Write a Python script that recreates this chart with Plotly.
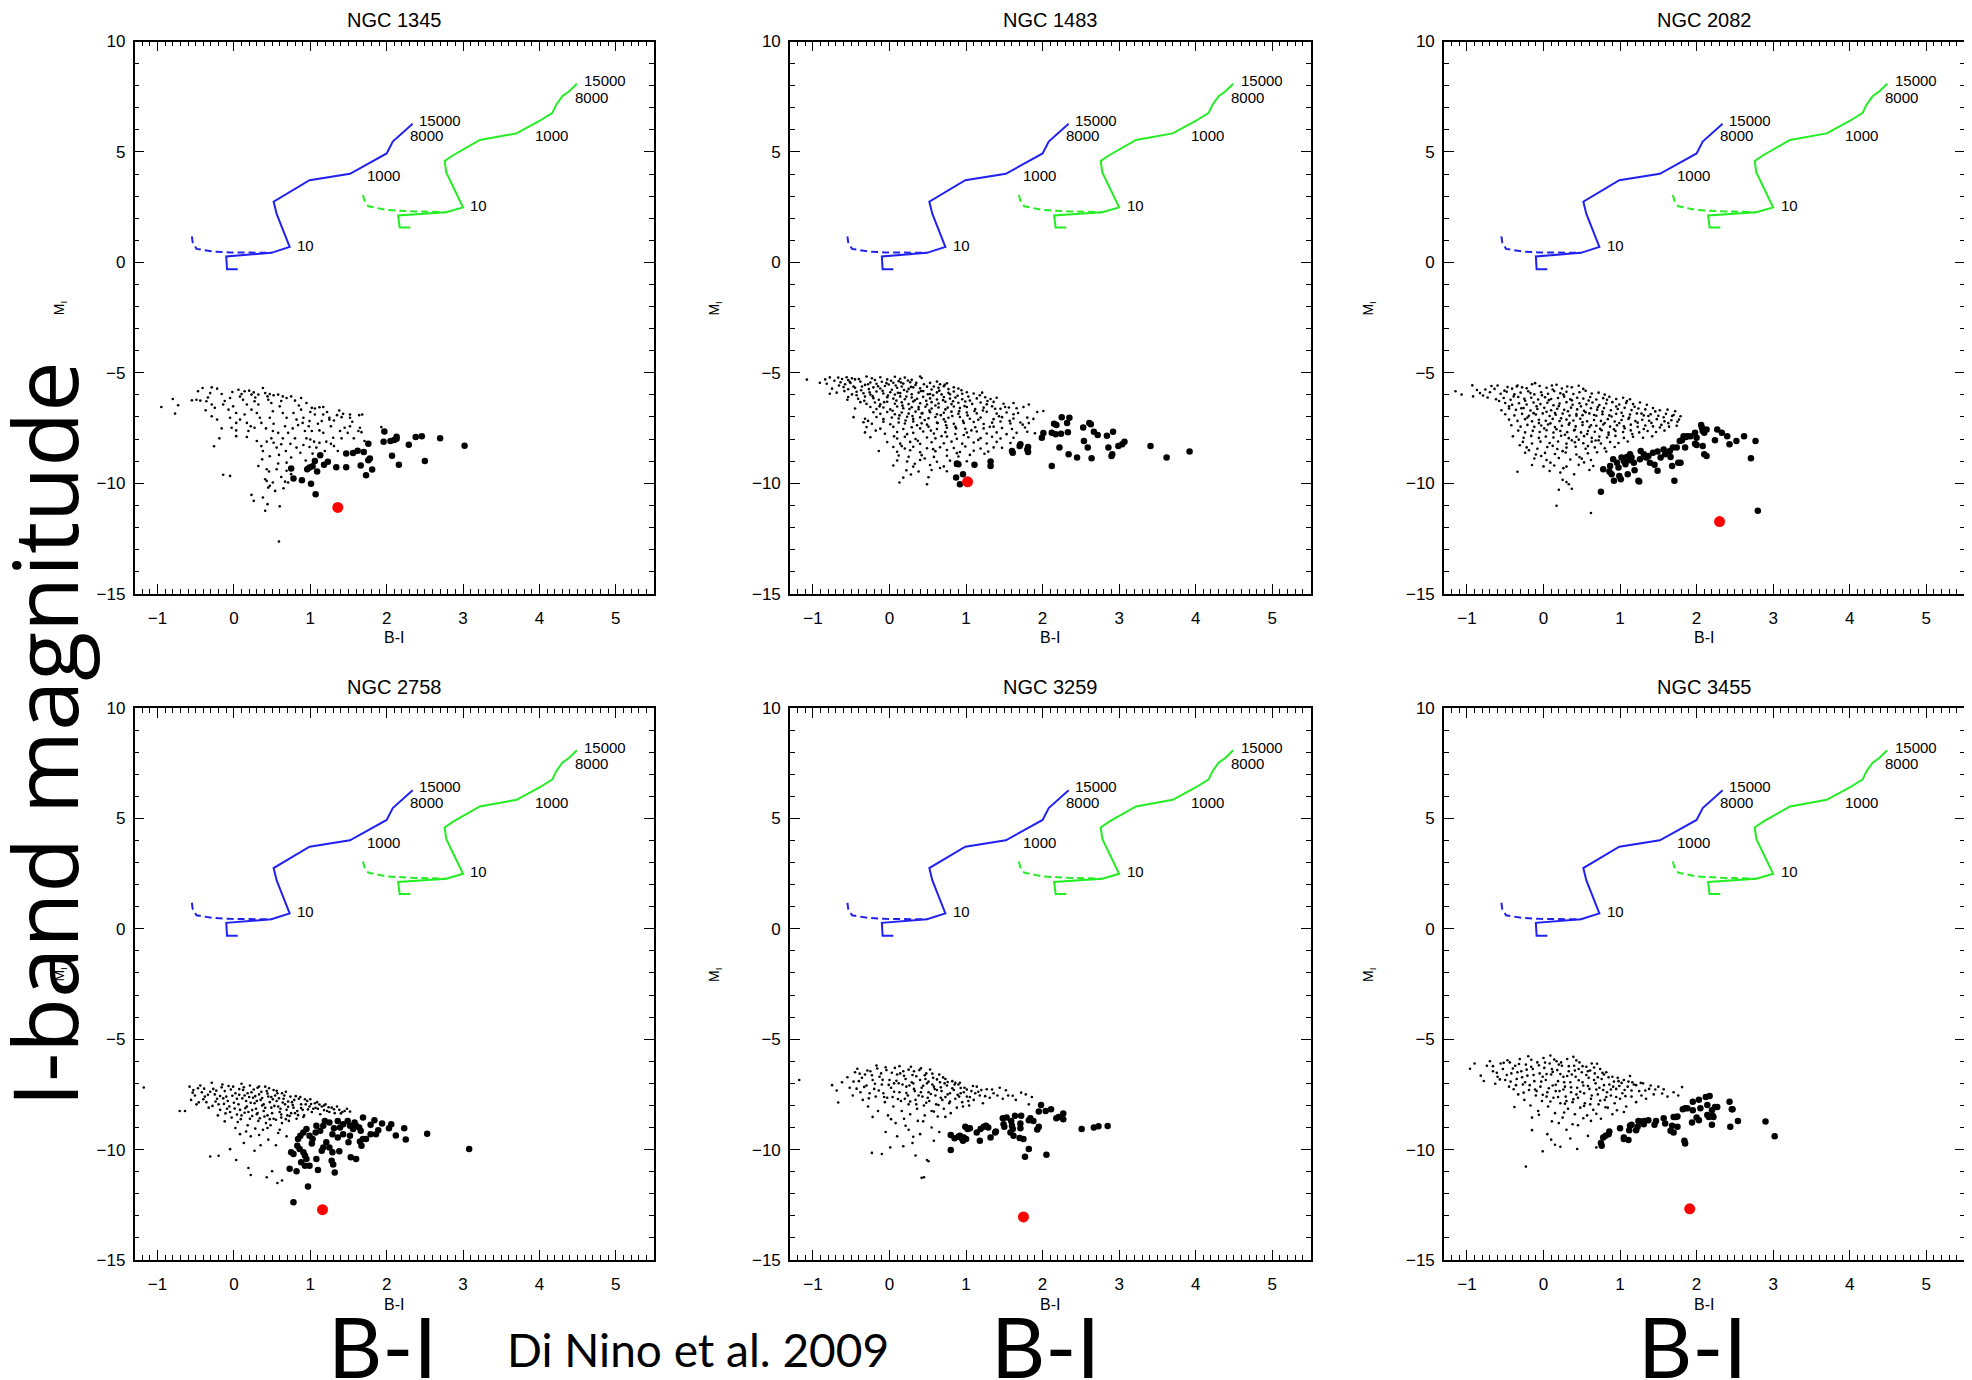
import plotly.graph_objects as go

# the page puts the plot 8 px in from the top-left corner of the window
OFF = 8
W, H = 1972 - OFF, 1380 - OFF

galaxies = ["NGC 1345", "NGC 1483", "NGC 2082", "NGC 2758", "NGC 3259", "NGC 3455"]

# isochrone tracks, drawn the same in every panel
blue_dash_x = [-0.55, -0.54, -0.49, -0.27, -0.05, 0.17, 0.49]
blue_dash_y = [1.18, 0.91, 0.61, 0.49, 0.45, 0.43, 0.43]
blue_x = [0.05, -0.09, -0.10, 0.49, 0.73, 0.56, 0.52, 0.99, 1.52, 2.00, 2.08, 2.17, 2.34]
blue_y = [-0.31, -0.31, 0.27, 0.43, 0.70, 2.19, 2.75, 3.72, 4.01, 4.93, 5.47, 5.75, 6.27]
green_dash_x = [1.69, 1.71, 1.76, 2.00, 2.34, 2.78]
green_dash_y = [3.05, 2.79, 2.54, 2.37, 2.31, 2.27]
green_x = [2.31, 2.17, 2.15, 2.78, 3.00, 2.88, 2.78, 2.76, 2.87, 3.22, 3.70, 4.00, 4.17, 4.22, 4.30, 4.39, 4.49]
green_y = [1.58, 1.58, 2.12, 2.27, 2.49, 3.32, 4.07, 4.59, 4.85, 5.54, 5.84, 6.40, 6.77, 7.14, 7.52, 7.75, 8.09]

age_text = ["10", "1000", "15000", "8000"]
blue_age_x = [0.80, 1.72, 2.40, 2.28]
blue_age_y = [0.77, 3.93, 6.43, 5.73]
green_age_x = [3.07, 3.91, 4.56, 4.44]
green_age_y = [2.58, 5.73, 8.22, 7.48]

# (B-I, M_I) of the clusters: faint = small dots, bright = big dots
n1345_faint = [(-0.41,-5.69),(-0.29,-5.66),(-0.22,-5.72),(-0.31,-5.92),(-0.47,-5.84),(-0.49,-6.22),(-0.55,-6.25),(-0.44,-6.26),(-0.16,-5.96),(-0.05,-6.14),(-0.02,-5.87),(0.06,-5.77),(0.10,-5.96),(0.14,-5.84),(0.20,-5.81),(0.23,-5.99),(0.26,-5.89),(0.32,-5.99),(0.38,-5.69),(0.41,-5.92),(0.44,-6.07),(0.47,-5.96),(0.52,-6.02),(0.58,-5.99),(0.64,-6.07),(0.69,-6.14),(0.75,-6.07),(0.80,-6.26),(0.88,-6.14),(0.95,-6.37),(1.02,-6.59),(1.06,-6.62),(1.12,-6.56),(1.17,-6.55),(1.25,-7.04),(1.31,-7.16),(1.38,-6.71),(1.43,-6.86),(1.52,-6.89),(1.64,-6.92),(1.68,-6.89),(-0.95,-6.55),(-0.80,-6.19),(-0.73,-6.47),(-0.77,-6.85),(-0.36,-6.29),(-0.29,-6.44),(-0.25,-6.59),(-0.37,-6.70),(-0.29,-6.97),(-0.22,-7.12),(-0.16,-7.52),(-0.19,-7.97),(-0.26,-8.33),(-0.14,-9.62),(-0.05,-9.67),(-0.14,-6.44),(-0.07,-6.67),(-0.01,-6.52),(0.03,-6.82),(-0.05,-7.04),(0.03,-7.27),(-0.03,-7.49),(0.03,-7.61),(0.03,-7.87),(0.12,-6.22),(0.17,-6.44),(0.23,-6.67),(0.14,-6.89),(0.17,-7.27),(0.19,-7.64),(0.17,-7.91),(0.27,-6.29),(0.32,-6.44),(0.30,-6.82),(0.34,-7.04),(0.36,-7.27),(0.27,-7.49),(0.30,-8.09),(0.36,-8.32),(0.38,-8.54),(0.37,-8.92),(0.43,-9.37),(0.46,-9.47),(0.41,-9.82),(0.43,-9.90),(0.49,-6.37),(0.51,-6.74),(0.47,-7.04),(0.52,-7.31),(0.51,-7.64),(0.49,-7.97),(0.52,-8.17),(0.56,-8.39),(0.59,-8.72),(0.58,-9.11),(0.56,-9.37),(0.51,-9.97),(0.47,-10.12),(0.54,-10.35),(0.60,-6.52),(0.64,-6.82),(0.69,-7.04),(0.67,-7.42),(0.71,-7.72),(0.64,-7.97),(0.62,-8.24),(0.68,-8.54),(0.69,-9.07),(0.69,-9.44),(0.67,-9.93),(0.65,-10.23),(0.71,-9.97),(0.75,-9.59),(0.78,-6.82),(0.82,-7.12),(0.84,-7.37),(0.80,-7.97),(0.82,-8.39),(0.75,-8.84),(0.88,-6.67),(0.91,-7.04),(0.90,-7.27),(0.93,-7.64),(0.95,-7.97),(0.91,-8.27),(0.99,-7.19),(1.02,-7.64),(1.00,-8.02),(0.99,-8.36),(1.03,-8.66),(0.94,-8.97),(1.06,-6.89),(1.10,-7.31),(1.12,-7.61),(1.12,-8.17),(1.08,-8.39),(1.17,-6.89),(1.15,-7.19),(1.17,-7.72),(1.21,-8.12),(1.19,-8.54),(1.25,-7.12),(1.30,-7.94),(1.31,-8.32),(1.36,-8.54),(1.39,-7.64),(1.41,-7.97),(1.45,-7.49),(1.52,-7.42),(1.55,-7.22),(1.57,-7.97),(1.63,-7.64),(1.65,-7.49),(1.67,-7.69),(1.41,-7.01),(1.52,-7.04),(1.71,-8.09),(1.93,-7.46),(0.23,-10.53),(0.26,-10.80),(0.44,-10.95),(0.41,-11.25),(0.60,-11.05),(0.59,-12.64),(0.45,-10.20),(0.38,-10.65),
(-0.34,-6.12),(-0.12,-6.28),(0.08,-6.08),(0.28,-6.12),(0.45,-6.22),(0.62,-6.28),(0.85,-6.48),(1.00,-6.78),(1.22,-6.78),(1.35,-6.92),(0.08,-7.12),(0.22,-7.42),(0.42,-7.52),(0.58,-7.72),(0.77,-7.52),(0.98,-7.42),(1.27,-7.42),(1.49,-7.72),(0.43,-8.12),(0.74,-8.22),(1.05,-8.12),(1.27,-8.22),(0.47,-8.78),(0.87,-8.62),(0.62,-9.72),(0.32,-9.22)]
n1345_bright = [(1.97,-7.66),(1.96,-8.12),(2.05,-8.09),(2.10,-8.05),(2.13,-7.99),(2.13,-7.90),(2.29,-8.26),(2.38,-7.91),(2.46,-7.88),(2.70,-7.97),(3.02,-8.30),(1.76,-8.21),(1.70,-8.59),(1.62,-8.53),(1.56,-8.63),(1.47,-8.66),(1.78,-8.88),(1.76,-8.96),(1.81,-9.38),(1.73,-9.64),(1.66,-9.20),(1.47,-9.28),(1.34,-9.28),(1.23,-9.03),(1.18,-9.16),(1.13,-8.74),(1.06,-8.99),(1.03,-9.23),(0.99,-9.29),(0.96,-9.37),(1.09,-9.47),(0.75,-9.33),(0.78,-9.79),(0.89,-9.87),(1.01,-10.03),(1.07,-10.50),(2.07,-8.76),(2.16,-9.16),(2.50,-8.99)]

n1483_faint = [(-1.08,-5.31),(-0.84,-5.30),(-0.78,-5.21),(-0.67,-5.22),(-0.62,-5.28),(-0.56,-5.20),(-0.54,-5.33),(-0.49,-5.25),(-0.45,-5.30),(-0.30,-5.17),(-0.23,-5.25),(-0.12,-5.20),(-0.03,-5.30),(0.07,-5.18),(0.14,-5.27),(0.20,-5.22),(0.29,-5.32),(0.40,-5.17),(0.42,-5.24),
(-0.91,-5.45),(-0.82,-5.50),(-0.64,-5.43),(-0.58,-5.52),(-0.51,-5.46),(-0.38,-5.40),(-0.32,-5.55),(-0.25,-5.44),(-0.17,-5.50),(-0.10,-5.41),(-0.01,-5.53),(0.05,-5.45),(0.12,-5.38),(0.18,-5.49),(0.27,-5.43),(0.34,-5.55),(0.53,-5.46),(0.62,-5.40),(0.66,-5.52),(0.75,-5.48),
(-0.75,-5.72),(-0.60,-5.65),(-0.54,-5.75),(-0.45,-5.68),(-0.36,-5.62),(-0.27,-5.74),(-0.21,-5.66),(-0.12,-5.71),(-0.06,-5.60),(0.03,-5.77),(0.10,-5.68),(0.16,-5.62),(0.25,-5.73),(0.31,-5.66),(0.40,-5.70),(0.49,-5.63),(0.55,-5.76),(0.64,-5.68),(0.71,-5.61),(0.77,-5.74),(0.84,-5.66),(0.90,-5.71),
(-0.78,-5.95),(-0.69,-5.90),(-0.49,-5.98),(-0.43,-5.86),(-0.34,-5.93),(-0.25,-5.99),(-0.17,-5.85),(-0.08,-5.94),(0.01,-5.88),(0.07,-5.99),(0.14,-5.92),(0.23,-5.85),(0.29,-5.97),(0.38,-5.90),(0.44,-5.83),(0.53,-5.96),(0.62,-5.89),(0.68,-5.98),(0.77,-5.91),(0.84,-5.85),(0.95,-5.95),(1.01,-5.88),(1.10,-5.94),(1.21,-5.90),
(-0.54,-6.10),(-0.41,-6.18),(-0.32,-6.08),(-0.21,-6.15),(-0.14,-6.22),(-0.03,-6.11),(0.05,-6.17),(0.14,-6.07),(0.20,-6.20),(0.29,-6.12),(0.36,-6.18),(0.44,-6.09),(0.53,-6.16),(0.62,-6.21),(0.71,-6.10),(0.79,-6.17),(0.86,-6.12),(0.95,-6.20),(1.03,-6.08),(1.14,-6.16),(1.25,-6.11),(1.32,-6.19),(1.40,-6.13),
(-0.38,-6.33),(-0.30,-6.41),(-0.19,-6.35),(-0.12,-6.43),(-0.03,-6.31),(0.07,-6.40),(0.16,-6.34),(0.25,-6.42),(0.31,-6.30),(0.40,-6.38),(0.49,-6.44),(0.55,-6.33),(0.64,-6.39),(0.73,-6.31),(0.81,-6.42),(0.90,-6.36),(0.99,-6.30),(1.08,-6.41),(1.19,-6.35),(1.27,-6.43),(1.36,-6.32),(1.49,-6.40),(1.62,-6.37),(1.82,-6.44),
(-0.45,-6.62),(-0.25,-6.55),(-0.17,-6.64),(-0.08,-6.57),(0.01,-6.66),(0.10,-6.53),(0.18,-6.61),(0.29,-6.56),(0.38,-6.65),(0.47,-6.54),(0.55,-6.62),(0.64,-6.57),(0.73,-6.66),(0.84,-6.53),(0.92,-6.60),(1.01,-6.55),(1.12,-6.64),(1.23,-6.58),(1.34,-6.52),(1.45,-6.63),(1.56,-6.57),(1.66,-6.61),(1.75,-6.55),
(-0.21,-6.79),(-0.12,-6.86),(-0.03,-6.78),(0.07,-6.88),(0.16,-6.80),(0.25,-6.85),(0.34,-6.76),(0.42,-6.84),(0.53,-6.79),(0.62,-6.88),(0.71,-6.81),(0.81,-6.76),(0.90,-6.86),(1.01,-6.80),(1.14,-6.84),(1.27,-6.77),(1.40,-6.85),(1.53,-6.80),(1.62,-6.88),(1.93,-6.78),(2.01,-6.73),
(-0.47,-7.01),(-0.32,-7.08),(-0.17,-7.00),(-0.08,-7.10),(0.03,-7.03),(0.12,-7.07),(0.23,-6.99),(0.31,-7.09),(0.40,-7.02),(0.51,-7.06),(0.60,-7.00),(0.71,-7.11),(0.77,-7.04),(0.92,-7.00),(1.05,-7.08),(1.19,-7.03),(1.36,-7.10),(1.47,-7.01),(1.62,-7.07),(1.80,-7.03),(1.88,-7.09),
(-0.34,-7.24),(-0.23,-7.31),(-0.08,-7.22),(0.01,-7.33),(0.12,-7.25),(0.20,-7.30),(0.31,-7.21),(0.42,-7.29),(0.49,-7.35),(0.62,-7.26),(0.73,-7.22),(0.84,-7.31),(0.97,-7.27),(1.10,-7.23),(1.23,-7.32),(1.34,-7.26),(1.45,-7.21),(1.58,-7.30),(1.71,-7.25),(1.82,-7.28),
(-0.30,-7.46),(-0.12,-7.53),(0.05,-7.45),(0.18,-7.55),(0.29,-7.47),(0.40,-7.52),(0.51,-7.44),(0.62,-7.55),(0.75,-7.49),(0.86,-7.45),(0.99,-7.54),(1.12,-7.47),(1.23,-7.52),(1.36,-7.44),(1.47,-7.50),(1.60,-7.55),(1.77,-7.48),
(-0.32,-7.70),(-0.06,-7.76),(0.10,-7.68),(0.23,-7.78),(0.31,-7.72),(0.44,-7.66),(0.58,-7.75),(0.73,-7.69),(0.86,-7.77),(1.01,-7.71),(1.14,-7.66),(1.27,-7.75),(1.40,-7.70),(1.53,-7.78),(1.66,-7.72),(1.80,-7.67),(1.90,-7.74),
(-0.25,-7.92),(0.10,-7.98),(0.20,-7.90),(0.34,-8.00),(0.49,-7.93),(0.60,-7.97),(0.75,-7.89),(0.88,-7.99),(1.03,-7.92),(1.19,-7.96),(1.34,-7.90),(1.45,-7.98),(1.62,-7.94),
(-0.03,-8.14),(0.14,-8.21),(0.27,-8.13),(0.40,-8.22),(0.55,-8.15),(0.71,-8.19),(0.81,-8.12),(0.95,-8.21),(1.10,-8.16),(1.27,-8.20),(1.40,-8.13),(1.58,-8.18),
(0.05,-8.36),(0.20,-8.43),(0.31,-8.35),(0.49,-8.42),(0.66,-8.37),(0.84,-8.41),(0.99,-8.34),(1.19,-8.43),(1.36,-8.38),(1.47,-8.40),
(-0.14,-8.54),(0.10,-8.58),(0.27,-8.51),(0.40,-8.60),(0.60,-8.55),(0.75,-8.50),(0.92,-8.59),(1.10,-8.53),(1.29,-8.57),
(0.12,-8.75),(0.25,-8.80),(0.42,-8.73),(0.58,-8.81),(0.75,-8.76),(0.90,-8.79),(1.05,-8.72),
(0.10,-8.97),(0.23,-9.02),(0.40,-8.95),(0.62,-9.03),(0.79,-8.98),(1.01,-9.01),
(0.05,-9.20),(0.31,-9.25),(0.53,-9.18),(0.71,-9.24),(0.86,-9.21),
(0.22,-9.42),(0.38,-9.47),(0.55,-9.40),(0.75,-9.46),(0.18,-9.75),(0.51,-9.73),(0.13,-9.97),(0.49,-10.05),
(-0.72,-5.36),(-0.66,-5.58),(-0.59,-5.83),(-0.52,-5.41),(-0.47,-5.62),(-0.43,-6.02),(-0.40,-5.28),(-0.37,-5.79),(-0.33,-6.27),(-0.28,-5.52),(-0.26,-5.88),(-0.22,-6.06),(-0.19,-5.33),(-0.15,-5.61),(-0.13,-6.52),(-0.09,-5.82),(-0.07,-6.33),(-0.04,-5.47),(-0.02,-6.03),(0.02,-5.36),(0.04,-6.72),(0.08,-5.58),(0.09,-6.26),(0.11,-5.91),(0.13,-6.93),(0.15,-5.44),(0.17,-6.49),(0.19,-5.78),(0.21,-7.16),(0.22,-6.08),(0.24,-5.35),(0.26,-6.64),(0.28,-5.64),(0.30,-6.96),(0.33,-6.25),(0.35,-5.46),(0.36,-7.38),(0.38,-6.55),(0.41,-5.83),(0.43,-6.83),(0.45,-5.52),(0.46,-7.14),(0.48,-6.27),(0.50,-5.97),(0.52,-6.71),(0.54,-7.62),(0.57,-6.02),(0.58,-5.62),(0.60,-6.48),(0.63,-7.28),(0.65,-5.81),(0.67,-6.92),(0.70,-6.24),(0.72,-5.55),(0.74,-7.38),(0.76,-6.58),(0.79,-5.97),(0.82,-6.96),(0.83,-6.29),(0.87,-7.52),(0.89,-6.04),(0.91,-6.74),(0.94,-5.79),(0.96,-7.18),(0.98,-6.51),(1.02,-6.93),(1.05,-6.26),(1.07,-7.61),(1.11,-6.73),(1.16,-7.13),(1.18,-6.02),(1.22,-6.71),(1.28,-6.28),(1.31,-7.45),(1.38,-6.63),(1.43,-6.97),(1.51,-6.55),(1.57,-7.18),(1.68,-6.82),(1.74,-7.35),(-0.55,-6.22),(-0.28,-7.18),(-0.18,-7.62),(0.06,-7.88),(0.16,-8.32),(0.37,-8.08),(0.57,-8.46),(0.68,-7.87),(0.88,-8.64),(0.97,-7.82),(1.16,-8.04),(1.24,-8.67),(0.33,-9.12),(0.46,-8.88),(0.66,-9.31),(0.28,-9.61)]
n1483_bright = [(2.25,-7.01),(2.35,-7.04),(2.15,-7.31),(2.18,-7.37),(2.32,-7.27),(2.61,-7.28),(2.63,-7.33),(2.53,-7.48),(2.67,-7.67),(2.72,-7.82),(2.84,-7.85),(2.92,-7.67),(2.01,-7.73),(1.99,-7.94),(2.12,-7.72),(2.17,-7.79),(2.24,-7.76),(2.33,-7.69),(2.54,-8.09),(2.59,-8.39),(2.22,-8.39),(2.34,-8.69),(2.45,-8.84),(2.64,-8.87),(2.86,-8.39),(2.91,-8.69),(2.90,-8.77),(2.99,-8.32),(3.04,-8.24),(3.07,-8.12),(3.41,-8.32),(3.62,-8.84),(3.92,-8.57),(1.71,-8.24),(1.70,-8.32),(1.60,-8.54),(1.61,-8.62),(1.81,-8.36),(1.81,-8.59),(1.80,-8.47),(1.32,-9.02),(1.32,-9.22),(1.11,-9.17),(0.88,-9.11),(0.90,-9.14),(0.87,-9.74),(0.96,-9.59),(0.92,-10.05),(2.12,-9.22)]

n2082_faint = [(-0.93,-5.57),(-0.76,-5.76),(-0.68,-5.60),(-0.60,-5.58),(-0.47,-5.65),(-0.41,-5.72),(-0.35,-5.62),(-0.28,-5.66),(-0.22,-5.70),(-0.15,-5.52),(-0.11,-5.47),(-0.05,-5.60),(0.04,-5.68),(0.11,-5.58),(0.17,-5.54),(0.24,-5.71),(0.31,-5.62),(0.37,-5.66),(0.46,-5.59),(0.52,-5.73),
(-1.15,-5.84),(-1.07,-5.99),(-0.92,-6.07),(-0.83,-5.92),(-0.70,-5.88),(-0.56,-5.95),(-0.48,-5.86),(-0.38,-5.97),(-0.30,-5.90),(-0.20,-5.84),(-0.12,-5.98),(-0.03,-5.88),(0.06,-5.95),(0.14,-5.83),(0.22,-5.93),(0.30,-5.86),(0.39,-5.96),(0.47,-5.88),(0.55,-5.82),(0.63,-5.94),(0.72,-5.90),(0.80,-5.99),
(-0.73,-6.12),(-0.62,-6.20),(-0.52,-6.14),(-0.43,-6.22),(-0.33,-6.10),(-0.25,-6.18),(-0.16,-6.13),(-0.07,-6.21),(0.02,-6.11),(0.10,-6.19),(0.19,-6.14),(0.27,-6.08),(0.35,-6.20),(0.44,-6.13),(0.52,-6.17),(0.61,-6.10),(0.69,-6.21),(0.78,-6.15),(0.86,-6.09),(0.95,-6.19),(1.04,-6.13),(1.13,-6.20),
(-0.50,-6.37),(-0.41,-6.45),(-0.32,-6.38),(-0.22,-6.44),(-0.13,-6.35),(-0.04,-6.42),(0.05,-6.36),(0.13,-6.47),(0.21,-6.39),(0.30,-6.33),(0.38,-6.45),(0.47,-6.38),(0.56,-6.43),(0.64,-6.35),(0.73,-6.46),(0.82,-6.39),(0.90,-6.33),(0.99,-6.44),(1.08,-6.37),(1.17,-6.42),(1.26,-6.35),(1.35,-6.45),
(-0.55,-6.70),(-0.45,-6.62),(-0.36,-6.68),(-0.26,-6.60),(-0.17,-6.71),(-0.08,-6.64),(0.01,-6.59),(0.10,-6.70),(0.18,-6.63),(0.27,-6.68),(0.36,-6.58),(0.44,-6.66),(0.53,-6.72),(0.62,-6.61),(0.70,-6.67),(0.79,-6.60),(0.88,-6.70),(0.97,-6.64),(1.06,-6.59),(1.15,-6.69),(1.24,-6.62),(1.33,-6.66),(1.43,-6.60),(1.52,-6.70),(1.62,-6.67),(1.72,-6.74),
(-0.50,-6.88),(-0.38,-6.93),(-0.28,-6.86),(-0.19,-6.95),(-0.10,-6.89),(-0.01,-6.84),(0.08,-6.96),(0.16,-6.90),(0.25,-6.85),(0.34,-6.94),(0.43,-6.87),(0.51,-6.92),(0.60,-6.84),(0.69,-6.95),(0.77,-6.88),(0.86,-6.93),(0.95,-6.86),(1.04,-6.96),(1.13,-6.89),(1.22,-6.84),(1.31,-6.93),(1.40,-6.88),(1.50,-6.95),(1.60,-6.86),(1.70,-6.91),(1.79,-6.97),
(-0.45,-7.12),(-0.34,-7.18),(-0.24,-7.10),(-0.15,-7.20),(-0.06,-7.13),(0.03,-7.17),(0.12,-7.09),(0.21,-7.19),(0.30,-7.12),(0.39,-7.16),(0.48,-7.08),(0.57,-7.20),(0.66,-7.14),(0.75,-7.18),(0.84,-7.10),(0.93,-7.21),(1.02,-7.14),(1.11,-7.09),(1.20,-7.19),(1.29,-7.13),(1.38,-7.17),(1.48,-7.10),(1.58,-7.20),(1.67,-7.15),(1.77,-7.12),
(-0.42,-7.38),(-0.30,-7.44),(-0.21,-7.36),(-0.12,-7.45),(-0.03,-7.39),(0.06,-7.34),(0.15,-7.46),(0.24,-7.40),(0.33,-7.35),(0.42,-7.43),(0.51,-7.37),(0.60,-7.46),(0.69,-7.40),(0.78,-7.34),(0.87,-7.44),(0.96,-7.38),(1.05,-7.42),(1.14,-7.35),(1.23,-7.45),(1.33,-7.39),(1.43,-7.43),(1.54,-7.36),(1.64,-7.44),(1.74,-7.40),
(-0.33,-7.62),(-0.24,-7.70),(-0.14,-7.63),(-0.05,-7.68),(0.04,-7.60),(0.13,-7.71),(0.22,-7.64),(0.31,-7.69),(0.40,-7.61),(0.49,-7.70),(0.58,-7.64),(0.67,-7.67),(0.76,-7.60),(0.85,-7.71),(0.94,-7.64),(1.04,-7.68),(1.14,-7.61),(1.25,-7.70),(1.36,-7.64),(1.47,-7.68),(1.58,-7.62),
(-0.40,-7.88),(-0.26,-7.94),(-0.16,-7.86),(-0.06,-7.95),(0.03,-7.89),(0.13,-7.93),(0.23,-7.85),(0.33,-7.96),(0.43,-7.90),(0.53,-7.87),(0.63,-7.95),(0.73,-7.89),(0.83,-7.93),(0.94,-7.86),(1.05,-7.95),(1.17,-7.90),(1.30,-7.94),(1.42,-7.88),
(-0.27,-8.13),(-0.15,-8.20),(-0.04,-8.12),(0.08,-8.18),(0.19,-8.11),(0.30,-8.21),(0.41,-8.15),(0.52,-8.19),(0.63,-8.12),(0.75,-8.20),(0.87,-8.14),(0.98,-8.18),(1.10,-8.11),
(-0.22,-8.38),(-0.08,-8.44),(0.05,-8.36),(0.18,-8.45),(0.30,-8.39),(0.42,-8.35),(0.55,-8.44),(0.67,-8.38),(0.80,-8.42),(0.93,-8.36),
(-0.24,-8.62),(-0.10,-8.70),(0.02,-8.63),(0.15,-8.68),(0.29,-8.61),(0.43,-8.70),(0.58,-8.65),(0.70,-8.60),
(-0.12,-8.88),(0.04,-8.95),(0.20,-8.86),(0.35,-8.93),(0.50,-8.89),(0.62,-8.95),
(-0.15,-9.18),(0.00,-9.24),(0.14,-9.20),(0.30,-9.25),(0.46,-9.17),(0.65,-9.22),
(-0.34,-9.48),(0.08,-9.45),(0.22,-9.52),(0.40,-9.60),(0.60,-9.40),
(0.25,-9.85),(0.30,-9.95),(0.33,-10.05),(0.20,-10.30),(0.37,-10.25),(0.17,-11.02),(0.62,-11.35),
(-0.87,-5.78),(-0.79,-6.03),(-0.64,-5.73),(-0.58,-6.28),(-0.51,-5.81),(-0.45,-6.52),(-0.39,-6.07),(-0.34,-5.58),(-0.29,-6.61),(-0.24,-6.27),(-0.21,-7.03),(-0.17,-5.92),(-0.13,-6.83),(-0.09,-6.52),(-0.06,-7.28),(-0.02,-6.02),(0.01,-7.52),(0.04,-6.77),(0.07,-6.24),(0.09,-7.29),(0.12,-5.76),(0.15,-6.82),(0.17,-7.56),(0.20,-6.51),(0.23,-7.06),(0.26,-5.99),(0.28,-7.81),(0.32,-6.74),(0.34,-7.28),(0.37,-6.25),(0.41,-7.58),(0.43,-6.95),(0.46,-8.03),(0.49,-6.52),(0.51,-7.24),(0.55,-6.79),(0.57,-7.77),(0.59,-6.26),(0.62,-7.38),(0.66,-6.91),(0.68,-8.07),(0.71,-6.55),(0.74,-7.54),(0.77,-6.76),(0.80,-7.28),(0.83,-6.22),(0.85,-7.81),(0.89,-6.98),(0.92,-7.56),(0.95,-6.53),(0.99,-7.28),(1.02,-6.81),(1.06,-7.51),(1.09,-6.28),(1.12,-7.03),(1.16,-7.77),(1.19,-6.54),(1.23,-7.26),(1.28,-6.85),(1.31,-7.55),(1.37,-6.96),(1.41,-7.27),(1.46,-6.75),(1.52,-7.48),(1.57,-7.02),(1.63,-7.28),(1.68,-6.96),(1.75,-7.22),(-0.31,-8.28),(-0.19,-8.51),(-0.03,-8.77),(0.12,-8.31),(0.25,-8.55),(0.37,-8.06),(0.47,-8.82),(0.58,-8.32),(0.72,-8.06),(0.82,-8.57),(0.09,-9.07),(0.26,-9.32),(0.53,-9.06)]
n2082_bright = [(0.75,-10.39),(0.78,-9.37),(0.87,-9.22),(0.86,-9.47),(0.89,-9.59),(0.92,-9.89),(0.91,-8.92),(0.96,-9.07),(0.98,-9.29),(0.99,-9.67),(1.01,-9.82),(1.02,-8.84),(1.05,-8.99),(1.07,-9.14),(1.09,-8.81),(1.10,-9.59),(1.12,-8.96),(1.13,-8.69),(1.15,-8.84),(1.18,-9.07),(1.19,-9.41),(1.24,-9.89),(1.25,-9.92),(1.26,-8.92),(1.27,-8.54),(1.31,-8.69),(1.34,-8.84),(1.37,-8.77),(1.39,-9.07),(1.43,-8.62),(1.45,-9.17),(1.49,-8.57),(1.49,-9.44),(1.53,-8.84),(1.57,-8.47),(1.59,-8.69),(1.65,-8.54),(1.66,-8.81),(1.68,-9.22),(1.69,-8.39),(1.71,-9.89),(1.74,-8.39),(1.76,-9.07),(1.79,-9.07),(1.78,-8.09),(1.81,-8.06),(1.83,-7.87),(1.85,-8.39),(1.86,-7.91),(1.88,-7.87),(1.92,-7.87),(1.98,-7.72),(2.00,-7.94),(1.98,-8.21),(2.00,-8.27),(2.06,-7.37),(2.07,-7.49),(2.08,-7.64),(2.10,-7.72),(2.13,-7.57),(2.08,-8.32),(2.10,-8.69),(2.13,-8.77),(2.24,-8.06),(2.27,-7.57),(2.33,-7.72),(2.40,-7.87),(2.43,-8.24),(2.52,-8.09),(2.62,-7.87),(2.77,-8.09),(2.71,-8.87),(2.80,-11.25)]

n2758_faint = [(-1.18,-7.19),(-0.71,-8.25),(-0.64,-8.25),(-0.58,-7.15),(-0.53,-7.30),(-0.51,-7.55),(-0.56,-7.75),(-0.49,-7.95),(-0.44,-7.10),(-0.42,-7.40),(-0.38,-7.60),(-0.36,-7.85),(-0.33,-8.10),(-0.29,-6.97),(-0.27,-7.25),(-0.25,-7.50),(-0.22,-7.70),(-0.20,-7.95),(-0.18,-8.20),(-0.21,-8.45),(-0.15,-7.05),(-0.12,-7.35),(-0.10,-7.60),(-0.08,-7.80),(-0.06,-8.05),(-0.05,-8.30),(-0.03,-8.55),(-0.01,-7.15),(0.02,-7.45),(0.04,-7.70),(0.06,-7.95),(0.08,-8.20),(0.10,-8.45),(0.05,-8.75),(0.10,-7.02),(0.12,-7.30),(0.14,-7.55),(0.16,-7.80),(0.17,-8.05),(0.19,-8.30),(0.21,-8.60),(0.18,-8.90),(0.21,-7.10),(0.23,-7.40),(0.25,-7.65),(0.27,-7.90),(0.29,-8.15),(0.30,-8.40),(0.32,-8.70),(0.28,-9.05),(0.31,-7.20),(0.33,-7.50),(0.35,-7.75),(0.37,-8.00),(0.39,-8.25),(0.40,-8.50),(0.42,-8.80),(0.38,-9.10),(0.41,-7.15),(0.43,-7.35),(0.45,-7.60),(0.47,-7.85),(0.49,-8.10),(0.50,-8.35),(0.52,-8.60),(0.48,-8.90),(0.52,-7.30),(0.54,-7.55),(0.56,-7.80),(0.58,-8.05),(0.60,-8.30),(0.62,-8.55),(0.63,-8.80),(0.60,-9.10),(0.63,-7.45),(0.65,-7.70),(0.67,-7.95),(0.69,-8.20),(0.70,-8.45),(0.72,-8.70),(0.69,-9.40),(0.74,-7.60),(0.76,-7.85),(0.78,-8.10),(0.80,-8.35),(0.82,-8.60),(0.85,-7.70),(0.88,-7.95),(0.90,-8.20),(0.92,-8.45),(0.96,-7.80),(0.99,-8.05),(1.02,-8.30),(1.06,-7.90),(1.10,-8.15),(1.13,-8.40),(1.18,-8.00),(1.22,-8.25),(1.28,-8.10),(1.32,-8.35),(1.38,-8.20),(1.45,-8.25),(1.52,-8.28),(0.08,-9.30),(0.22,-9.40),(-0.31,-10.31),(-0.20,-10.28),(-0.05,-9.98),(0.19,-10.83),(0.22,-11.15),(0.43,-11.25),(0.50,-10.98),(0.57,-11.51),(0.63,-11.40),(0.03,-10.47),(0.35,-9.80),(0.13,-9.70),(0.45,-9.55),(0.27,-10.05),(0.55,-9.80),
(-0.47,-7.22),(-0.40,-7.72),(-0.31,-7.38),(-0.24,-7.82),(-0.16,-7.18),(-0.14,-7.68),(-0.09,-8.15),(-0.04,-7.28),(0.00,-7.88),(0.07,-7.52),(0.09,-8.62),(0.13,-7.18),(0.15,-8.12),(0.20,-7.62),(0.24,-8.48),(0.26,-7.28),(0.30,-7.80),(0.34,-8.58),(0.36,-7.38),(0.39,-7.95),(0.44,-8.45),(0.46,-7.22),(0.51,-7.72),(0.55,-8.65),(0.57,-7.45),(0.61,-8.15),(0.66,-7.55),(0.68,-8.62),(0.71,-7.82),(0.75,-8.35),(0.79,-7.75),(0.83,-8.25),(0.87,-7.62),(0.91,-8.52),(0.94,-7.95),(1.00,-7.72),(1.04,-8.15),(1.09,-7.85),(1.15,-8.05),(1.20,-7.95),(1.25,-8.30),(1.35,-8.05),(1.42,-8.30),(1.48,-8.15),
(-0.54,-7.42),(-0.46,-7.86),(-0.39,-7.24),(-0.34,-7.52),(-0.28,-8.02),(-0.23,-7.33),(-0.18,-7.57),(-0.13,-7.93),(-0.11,-8.36),(-0.07,-7.12),(-0.02,-7.56),(0.01,-8.14),(0.04,-8.41),(0.07,-7.26),(0.11,-7.68),(0.14,-8.33),(0.18,-7.45),(0.22,-7.88),(0.24,-8.21),(0.28,-7.58),(0.31,-8.34),(0.33,-7.14),(0.37,-7.66),(0.41,-8.11),(0.44,-7.46),(0.47,-8.62),(0.49,-7.62),(0.53,-8.02),(0.56,-7.34),(0.59,-7.68),(0.62,-8.41),(0.64,-7.87),(0.68,-7.38),(0.71,-8.06),(0.73,-8.48),(0.77,-7.98),(0.81,-7.58),(0.84,-8.44),(0.88,-8.12),(0.93,-7.72),(0.97,-8.18),(1.01,-7.94),(1.07,-8.11),(1.12,-7.96),(1.18,-8.21),(1.24,-8.08),(1.31,-8.17),(1.40,-8.36),(-0.12,-8.72),(0.02,-9.02),(0.16,-9.18),(0.33,-9.34),(0.44,-9.02),(0.58,-9.25)]
n2758_bright = [(1.69,-8.55),(1.84,-8.67),(1.79,-8.88),(1.94,-8.82),(2.06,-8.85),(2.03,-9.03),(2.23,-9.03),(2.53,-9.28),(3.08,-9.97),(2.12,-9.36),(2.25,-9.54),(1.58,-8.77),(1.60,-8.92),(1.56,-9.07),(1.64,-9.00),(1.66,-9.15),(1.52,-8.92),(1.49,-8.70),(1.43,-8.85),(1.39,-9.00),(1.36,-8.70),(1.31,-9.03),(1.29,-9.30),(1.25,-8.77),(1.19,-8.70),(1.17,-8.92),(1.13,-9.15),(1.08,-8.92),(1.07,-9.22),(1.03,-9.52),(0.99,-9.37),(1.02,-9.72),(0.95,-9.07),(0.91,-9.22),(0.87,-9.37),(0.84,-9.52),(0.83,-9.82),(0.86,-9.97),(0.91,-10.12),(0.93,-10.27),(0.95,-10.43),(0.75,-10.12),(0.78,-10.20),(0.73,-10.87),(0.82,-10.98),(0.88,-10.57),(0.93,-10.73),(0.99,-10.73),(1.10,-10.92),(1.08,-10.43),(1.15,-10.05),(1.17,-9.90),(1.21,-9.67),(1.25,-9.90),(1.29,-10.12),(1.38,-10.08),(1.28,-10.50),(1.30,-10.68),(1.32,-11.04),(1.36,-9.45),(1.43,-9.30),(1.50,-9.67),(1.52,-9.37),(1.53,-10.35),(1.60,-10.43),(1.65,-9.63),(1.67,-9.82),(1.69,-9.52),(1.73,-9.52),(1.79,-9.30),(1.86,-9.30),(1.89,-9.12),(0.97,-11.67),(0.78,-12.38)]

n3259_faint = [(-1.18,-6.85),(-0.69,-7.32),(-0.67,-7.87),(-0.75,-7.08),(-0.62,-6.95),(-0.55,-6.72),(-0.52,-7.20),(-0.48,-7.55),(-0.45,-6.50),(-0.42,-6.34),(-0.40,-6.90),(-0.38,-7.40),(-0.35,-7.75),(-0.32,-6.60),(-0.30,-7.10),(-0.28,-8.05),(-0.25,-6.45),(-0.22,-6.85),(-0.20,-7.25),(-0.18,-7.60),(-0.17,-6.19),(-0.15,-8.25),(-0.13,-6.70),(-0.10,-7.05),(-0.08,-7.45),(-0.06,-7.85),(-0.04,-6.40),(-0.02,-8.45),(0.00,-6.85),(0.02,-7.20),(0.04,-7.62),(0.05,-8.05),(0.07,-6.30),(0.08,-8.80),(0.10,-6.60),(0.12,-7.00),(0.13,-7.40),(0.15,-7.80),(0.16,-8.25),(0.18,-6.45),(0.19,-8.60),(0.21,-6.80),(0.22,-7.15),(0.24,-7.55),(0.25,-7.95),(0.27,-8.40),(0.28,-6.25),(0.30,-6.62),(0.31,-7.00),(0.33,-7.35),(0.34,-7.75),(0.36,-8.15),(0.37,-8.70),(0.39,-6.40),(0.40,-6.85),(0.42,-7.20),(0.43,-7.60),(0.45,-8.00),(0.46,-8.45),(0.48,-6.55),(0.49,-7.00),(0.51,-7.40),(0.52,-7.80),(0.53,-6.37),(0.55,-8.25),(0.57,-6.75),(0.58,-7.15),(0.60,-7.55),(0.61,-7.95),(0.63,-8.50),(0.65,-6.60),(0.66,-6.95),(0.68,-7.35),(0.69,-7.75),(0.71,-8.15),(0.73,-6.80),(0.75,-7.10),(0.76,-7.50),(0.78,-7.90),(0.80,-8.35),(0.82,-6.90),(0.84,-7.30),(0.86,-7.70),(0.88,-8.10),(0.90,-7.05),(0.92,-6.97),(0.93,-7.45),(0.95,-7.85),(0.98,-7.20),(1.01,-7.60),(1.04,-8.00),(1.07,-7.35),(1.10,-7.75),(1.14,-7.15),(1.18,-7.55),(1.22,-7.90),(1.27,-7.27),(1.31,-7.65),(1.36,-7.45),(1.44,-7.20),(1.48,-7.70),(1.55,-7.55),(1.65,-7.75),(1.78,-7.50),(1.86,-7.62),(1.82,-7.95),
(-0.23,-10.15),(-0.10,-10.20),(0.01,-9.90),(0.34,-10.27),(0.49,-10.47),(0.51,-10.53),(0.42,-11.28),(0.45,-11.25),(0.10,-9.40),(0.25,-9.10),(0.40,-9.30),(0.55,-9.00),(0.65,-9.20),(0.30,-9.70),(-0.05,-9.20),(0.18,-9.85),(0.58,-9.60),
(-0.36,-6.75),(-0.26,-7.45),(-0.11,-6.55),(-0.03,-7.65),(0.06,-7.00),(0.14,-6.55),(0.20,-7.70),(0.26,-7.10),(0.32,-6.45),(0.35,-7.95),(0.41,-7.40),(0.47,-6.80),(0.50,-7.65),(0.56,-7.05),(0.62,-7.30),(0.67,-7.65),(0.72,-7.00),(0.79,-7.45),(0.85,-7.05),(0.91,-7.60),(0.97,-7.40),(1.03,-7.80),(1.12,-7.45),(1.20,-7.30),
(-0.47,-6.92),(-0.43,-7.24),(-0.39,-6.56),(-0.33,-7.16),(-0.29,-6.42),(-0.27,-7.68),(-0.23,-6.63),(-0.19,-7.02),(-0.16,-6.33),(-0.14,-7.32),(-0.09,-6.84),(-0.07,-7.62),(-0.05,-6.27),(-0.01,-7.07),(0.03,-6.52),(0.06,-7.38),(0.09,-6.88),(0.11,-7.71),(0.13,-6.22),(0.17,-7.05),(0.19,-6.66),(0.22,-7.44),(0.25,-6.38),(0.27,-7.82),(0.29,-6.95),(0.32,-7.25),(0.35,-6.68),(0.38,-7.55),(0.41,-6.32),(0.44,-7.11),(0.46,-6.63),(0.48,-7.88),(0.51,-6.92),(0.54,-7.48),(0.56,-6.56),(0.59,-7.26),(0.62,-6.82),(0.64,-7.98),(0.67,-7.18),(0.70,-6.73),(0.73,-7.62),(0.76,-6.94),(0.79,-7.82),(0.82,-7.22),(0.86,-6.98),(0.89,-7.52),(0.93,-7.21),(0.96,-8.05),(1.01,-7.28),(1.05,-7.62),(1.09,-7.12),(1.16,-7.38),(1.25,-7.58),(1.34,-7.28),(1.41,-7.55),(1.52,-7.31),(1.61,-7.56),(1.72,-7.42),(-0.22,-8.52),(0.02,-8.62),(0.21,-8.92),(0.44,-8.72),(0.58,-8.28),(0.73,-8.52),(0.31,-9.42)]
n3259_bright = [(0.80,-9.34),(0.80,-10.02),(0.85,-9.49),(0.90,-9.42),(0.92,-9.37),(0.95,-9.52),(0.97,-9.45),(0.99,-8.97),(1.02,-9.07),(1.05,-9.03),(0.96,-9.60),(1.00,-9.52),(1.14,-9.22),(1.18,-9.60),(1.19,-9.07),(1.23,-8.97),(1.26,-8.92),(1.29,-9.00),(1.32,-9.45),(1.38,-9.22),(1.39,-9.18),(1.49,-8.85),(1.50,-8.97),(1.48,-8.58),(1.53,-8.55),(1.59,-8.70),(1.60,-8.92),(1.61,-9.07),(1.62,-9.37),(1.64,-8.47),(1.70,-9.48),(1.71,-9.03),(1.72,-8.47),(1.75,-9.52),(1.82,-9.97),(1.77,-10.32),(1.82,-8.67),(1.84,-8.58),(1.88,-8.70),(1.93,-9.09),(1.95,-8.97),(1.95,-8.28),(1.98,-7.98),(2.04,-8.25),(2.11,-8.17),(2.18,-8.58),(2.21,-8.52),(2.27,-8.62),(2.27,-8.37),(2.51,-9.07),(2.67,-9.00),(2.73,-8.94),(2.85,-8.93),(2.05,-10.23),(1.71,-8.82),(1.58,-9.22)]

n3455_faint = [(-0.96,-6.34),(-0.90,-6.10),(-0.82,-6.65),(-0.78,-6.89),(-0.74,-6.20),(-0.70,-6.00),(-0.66,-6.45),(-0.63,-7.02),(-0.60,-6.70),(-0.56,-6.10),(-0.53,-6.35),(-0.50,-6.85),(-0.47,-5.95),(-0.45,-7.15),(-0.42,-6.55),(-0.39,-7.27),(-0.38,-8.07),(-0.37,-6.20),(-0.35,-6.80),(-0.33,-7.50),(-0.31,-5.90),(-0.29,-6.45),(-0.27,-7.05),(-0.25,-7.75),(-0.23,-6.15),(-0.21,-6.65),(-0.20,-5.77),(-0.19,-7.30),(-0.17,-8.00),(-0.15,-8.55),(-0.15,-9.12),(-0.14,-6.35),(-0.12,-6.90),(-0.10,-7.55),(-0.08,-6.05),(-0.07,-8.25),(-0.05,-6.55),(-0.04,-7.15),(-0.02,-7.80),(0.00,-5.85),(0.01,-6.30),(0.03,-6.85),(0.05,-7.40),(0.06,-8.05),(0.08,-6.10),(0.09,-5.74),(0.10,-6.60),(0.12,-7.10),(0.13,-7.65),(0.15,-8.35),(0.17,-6.00),(0.18,-6.40),(0.19,-6.90),(0.21,-7.35),(0.22,-7.90),(0.24,-6.20),(0.25,-8.55),(0.26,-6.70),(0.28,-7.15),(0.29,-7.60),(0.31,-5.90),(0.32,-8.15),(0.33,-6.45),(0.35,-6.95),(0.36,-7.40),(0.38,-7.85),(0.39,-5.80),(0.40,-6.20),(0.41,-8.40),(0.42,-6.70),(0.44,-7.20),(0.45,-7.65),(0.47,-6.05),(0.48,-8.10),(0.50,-6.50),(0.51,-6.95),(0.53,-7.45),(0.54,-7.90),(0.56,-6.25),(0.57,-8.45),(0.59,-6.75),(0.60,-7.25),(0.62,-7.70),(0.63,-6.10),(0.65,-8.20),(0.67,-6.55),(0.68,-7.00),(0.70,-6.11),(0.71,-7.50),(0.72,-7.95),(0.74,-6.35),(0.76,-6.80),(0.78,-7.30),(0.80,-7.75),(0.82,-6.50),(0.84,-8.10),(0.86,-7.05),(0.88,-7.55),(0.90,-6.70),(0.93,-7.90),(0.95,-7.25),(0.98,-6.90),(1.00,-7.70),(1.03,-7.45),(1.05,-6.85),(1.08,-8.05),(1.10,-7.15),(1.13,-6.67),(1.15,-7.60),(1.18,-7.05),(1.21,-7.85),(1.25,-7.35),(1.30,-7.00),(1.34,-7.70),(1.38,-7.25),(1.44,-7.50),(1.50,-7.15),(1.57,-7.27),(1.62,-7.60),(1.70,-7.40),(1.81,-7.17),(1.76,-7.55),
(-0.01,-10.08),(0.15,-9.78),(0.22,-9.87),(0.44,-9.97),(0.58,-9.38),(0.69,-9.90),(-0.23,-10.77),(0.05,-9.30),(0.30,-9.10),(0.20,-8.80),(0.45,-8.90),(0.62,-8.70),(0.10,-9.55),(0.35,-9.50),(0.75,-8.60),(0.90,-8.40),(1.05,-8.30),
(-0.44,-6.05),(-0.34,-6.50),(-0.24,-6.95),(-0.16,-6.25),(-0.09,-7.35),(-0.01,-6.70),(0.04,-7.60),(0.11,-6.35),(0.16,-7.35),(0.20,-6.15),(0.27,-6.95),(0.30,-7.80),(0.37,-6.60),(0.43,-7.50),(0.46,-6.35),(0.52,-7.10),(0.58,-6.45),(0.61,-7.95),(0.66,-6.85),(0.73,-7.20),(0.79,-6.60),(0.83,-7.40),(0.91,-7.15),(0.97,-6.75),(1.06,-7.30),(1.16,-6.95),(1.28,-7.55),(1.40,-7.10),
(-0.66,-6.22),(-0.61,-6.52),(-0.57,-6.82),(-0.52,-6.07),(-0.48,-6.62),(-0.43,-6.92),(-0.40,-6.33),(-0.36,-7.08),(-0.32,-6.12),(-0.28,-6.72),(-0.26,-7.42),(-0.22,-6.38),(-0.18,-7.08),(-0.16,-5.93),(-0.13,-6.62),(-0.11,-7.28),(-0.06,-6.18),(-0.03,-6.92),(-0.01,-7.52),(0.02,-6.06),(0.04,-6.58),(0.07,-7.22),(0.09,-7.82),(0.12,-6.48),(0.14,-5.92),(0.16,-7.06),(0.19,-7.62),(0.22,-6.58),(0.23,-6.05),(0.26,-7.28),(0.28,-7.92),(0.31,-6.67),(0.33,-6.22),(0.36,-7.18),(0.39,-7.72),(0.41,-6.42),(0.43,-5.96),(0.46,-6.86),(0.48,-7.38),(0.51,-6.22),(0.53,-8.02),(0.56,-6.62),(0.58,-7.12),(0.61,-6.42),(0.63,-7.55),(0.66,-6.28),(0.69,-7.28),(0.71,-6.72),(0.74,-7.78),(0.77,-6.52),(0.79,-7.08),(0.82,-7.62),(0.85,-6.72),(0.88,-7.28),(0.92,-6.92),(0.95,-7.62),(0.99,-7.12),(1.02,-6.98),(1.07,-7.58),(1.11,-6.92),(1.15,-7.32),(1.21,-7.08),(1.27,-6.98),(1.33,-7.32),(1.46,-7.28),(1.55,-7.46),(-0.06,-8.42),(0.11,-8.72),(0.27,-8.32),(0.38,-8.85),(0.52,-8.58),(0.69,-8.38),(0.81,-8.08),(0.96,-8.22)]
n3455_bright = [(0.75,-9.70),(0.76,-9.82),(0.78,-9.45),(0.81,-9.37),(0.85,-9.30),(0.86,-9.18),(1.00,-9.03),(1.05,-9.45),(1.05,-9.52),(1.11,-9.57),(1.12,-9.12),(1.13,-8.92),(1.15,-8.88),(1.21,-9.12),(1.23,-8.97),(1.24,-8.70),(1.27,-8.73),(1.31,-8.85),(1.32,-8.70),(1.37,-8.67),(1.45,-8.88),(1.47,-8.70),(1.57,-8.58),(1.59,-8.82),(1.66,-9.15),(1.70,-9.22),(1.68,-8.92),(1.70,-8.52),(1.73,-8.52),(1.75,-8.97),(1.75,-8.50),(1.82,-8.17),(1.85,-8.13),(1.84,-9.60),(1.85,-9.72),(1.88,-8.13),(1.94,-8.77),(1.95,-8.22),(1.95,-7.83),(2.00,-8.55),(2.03,-8.67),(2.05,-8.13),(2.03,-7.74),(2.12,-7.62),(2.17,-7.57),(2.14,-7.98),(2.14,-8.43),(2.16,-8.52),(2.21,-8.47),(2.20,-8.22),(2.22,-8.52),(2.24,-8.07),(2.27,-8.07),(2.20,-8.88),(2.43,-7.83),(2.46,-8.17),(2.47,-8.17),(2.44,-8.97),(2.54,-8.70),(2.90,-8.73),(3.02,-9.39)]

# the red source in each galaxy
red_x = [1.36, 1.02, 2.30, 1.16, 1.75, 1.91]
red_y = [-11.10, -9.94, -11.74, -12.72, -13.05, -12.68]

faint = [n1345_faint, n1483_faint, n2082_faint, n2758_faint, n3259_faint, n3455_faint]
bright = [n1345_bright, n1483_bright, n2082_bright, n2758_bright, n3259_bright, n3455_bright]

# panel frames, in window pixels
col_px = [(134.6, 654.0), (790.0, 1310.5), (1444.0, 1964.5)]
row_px = [(41.5, 593.6), (708.0, 1260.0)]


def px(x):
    return (x - OFF) / W


def py(y):
    return 1 - (y - OFF) / H


BLUE = "#2222f0"
GREEN = "#22ee22"
SANS = "Liberation Sans, Arial"
TICKFONT = dict(family=SANS, size=17, color="black")

fig = go.Figure()
annotations = []
layout_axes = {}

for i, name in enumerate(galaxies):
    r, c = divmod(i, 3)
    sfx = "" if i == 0 else str(i + 1)
    xa, ya = "x" + sfx, "y" + sfx
    x0, x1 = col_px[c]
    y0, y1 = row_px[r]

    common = dict(ticks="inside", ticklen=10, tickwidth=1.3, tickcolor="black",
                  showline=True, linecolor="black", linewidth=1.6, mirror="ticks",
                  showgrid=False, zeroline=False, tickfont=TICKFONT, automargin=False)
    layout_axes["xaxis" + sfx] = dict(common, range=[-1.3, 5.5], domain=[px(x0), px(x1)],
                                      anchor=ya, tick0=0, dtick=1, ticklabelstandoff=8,
                                      minor=dict(ticks="inside", dtick=0.1, ticklen=5,
                                                 tickwidth=1, tickcolor="black"))
    layout_axes["yaxis" + sfx] = dict(common, range=[-15, 10], domain=[py(y1), py(y0)],
                                      anchor=xa, tick0=0, dtick=5, ticklabelstandoff=4,
                                      minor=dict(ticks="inside", dtick=1, ticklen=5,
                                                 tickwidth=1, tickcolor="black"))

    # isochrones
    fig.add_trace(go.Scatter(x=blue_dash_x, y=blue_dash_y, mode="lines", xaxis=xa, yaxis=ya,
                             line=dict(color=BLUE, width=2, dash="7px,4px")))
    fig.add_trace(go.Scatter(x=blue_x, y=blue_y, mode="lines", xaxis=xa, yaxis=ya,
                             line=dict(color=BLUE, width=2)))
    fig.add_trace(go.Scatter(x=green_dash_x, y=green_dash_y, mode="lines", xaxis=xa, yaxis=ya,
                             line=dict(color=GREEN, width=2, dash="7px,4px")))
    fig.add_trace(go.Scatter(x=green_x, y=green_y, mode="lines", xaxis=xa, yaxis=ya,
                             line=dict(color=GREEN, width=2)))

    # clusters
    fx, fy = zip(*faint[i])
    fig.add_trace(go.Scatter(x=fx, y=fy, mode="markers", xaxis=xa, yaxis=ya,
                             marker=dict(color="black", size=2.6, line=dict(width=0))))
    bx, by = zip(*bright[i])
    fig.add_trace(go.Scatter(x=bx, y=by, mode="markers", xaxis=xa, yaxis=ya,
                             marker=dict(color="black", size=6.5, line=dict(width=0))))
    fig.add_trace(go.Scatter(x=[red_x[i]], y=[red_y[i]], mode="markers", xaxis=xa, yaxis=ya,
                             marker=dict(color="#ff0000", size=11, line=dict(width=0))))

    for t, ax_, ay_ in zip(age_text + age_text, blue_age_x + green_age_x, blue_age_y + green_age_y):
        annotations.append(dict(x=ax_, y=ay_, xref=xa, yref=ya, text=t, showarrow=False,
                                xanchor="left", yanchor="middle",
                                font=dict(family=SANS, size=15, color="black")))

    xc = px((x0 + x1) / 2)
    # panel title
    annotations.append(dict(x=xc, y=py(y0 - 21), xref="paper", yref="paper", text=name,
                            showarrow=False, xanchor="center", yanchor="middle",
                            font=dict(family=SANS, size=20, color="black")))
    # small axis titles
    annotations.append(dict(x=xc, y=py(y1 + 44), xref="paper", yref="paper", text="B-I",
                            showarrow=False, xanchor="center", yanchor="middle",
                            font=dict(family=SANS, size=16, color="black")))
    annotations.append(dict(x=px(x0 - 75), y=py((y0 + y1) / 2 - 9), xref="paper", yref="paper",
                            text="M<sub>I</sub>", textangle=-90, showarrow=False,
                            xanchor="center", yanchor="middle",
                            font=dict(family=SANS, size=14, color="black")))

# big overall labels
annotations.append(dict(x=px(43), y=py(734), xref="paper", yref="paper", text="I-band magnitude",
                        textangle=-90, showarrow=False, xanchor="center", yanchor="middle",
                        font=dict(family="Open Sans", size=90, color="black")))
for bx_ in [382, 1045, 1692]:
    annotations.append(dict(x=px(bx_), y=py(1345), xref="paper", yref="paper", text="B-I",
                            showarrow=False, xanchor="center", yanchor="middle",
                            font=dict(family="Lato", size=84, color="black")))
annotations.append(dict(x=px(698), y=py(1349), xref="paper", yref="paper",
                        text="Di Nino et al. 2009", showarrow=False, xanchor="center", yanchor="middle",
                        font=dict(family="Lato", size=46, color="black")))

fig.update_layout(width=W, height=H, margin=dict(l=0, r=0, t=0, b=0),
                  paper_bgcolor="white", plot_bgcolor="white", showlegend=False,
                  annotations=annotations, **layout_axes)

fig.write_html("out.html")
